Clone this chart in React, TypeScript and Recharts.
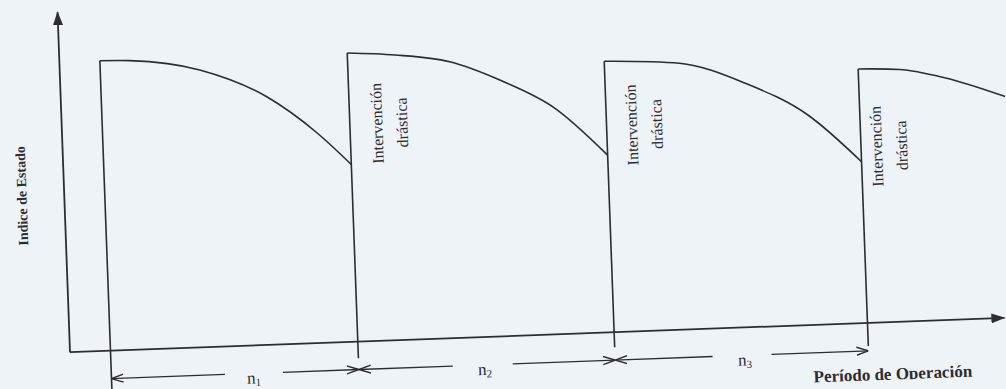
import { LineChart, Line, XAxis, YAxis, ReferenceLine, ReferenceDot } from 'recharts';

// operating time (x) and condition index (y)
const X_MAX = 37.76;
const Y_MIN = -17;
const Y_MAX = 100;

const cycle1T = [1.62, 2.82, 5.6, 8.24, 10.19, 11.52];
const cycle1V = [85.3, 85.0, 81.5, 72.9, 61.8, 52.1];
const cycle2T = [11.52, 13.42, 15.6, 17.58, 19.73, 21.78];
const cycle2V = [84.9, 83.8, 81.2, 75.3, 66.5, 52.1];
const cycle3T = [21.78, 24.79, 27.36, 29.83, 31.92];
const cycle3V = [79.7, 78.3, 71.8, 61.8, 47.4];
const cycle4T = [31.92, 33.57, 35.36, 37.76];
const cycle4V = [74.7, 74.1, 71.2, 65];

// vertical strokes at each restart
const interventionT = [1.62, 11.52, 21.78, 31.92];
const interventionTop = [85.3, 84.9, 79.7, 74.7];
const interventionFoot = [-13, -4.9, -4.4, -6.8];

// "Intervención drástica" notes
const noteT = [12.6, 22.78, 32.54];
const noteV = [63.9, 60.7, 51.8];
const noteLines = ['Intervención', 'drástica'];

// n1 / n2 / n3 dimension arrows under the axis
const dimStart = [1.62, 11.52, 21.78];
const dimEnd = [11.52, 21.78, 31.92];
const gapStart = [6.16, 15.28, 25.68];
const gapEnd = [8.48, 17.68, 28.04];
const dimLabelT = [7.32, 16.56, 26.97];
const dimSub = ['1', '2', '3'];
const DIM_LEVEL = -8.2;

const yTitle = 'Indice de Estado';
const xTitle = 'Período de Operación';

const INK = '#2b2d31';
const SERIF = '"Liberation Serif", "Times New Roman", serif';

const toPoints = (ts: number[], vs: number[]) => ts.map((t, i) => ({ t, v: vs[i] }));
const cycles = [
  toPoints(cycle1T, cycle1V),
  toPoints(cycle2T, cycle2V),
  toPoints(cycle3T, cycle3V),
  toPoints(cycle4T, cycle4V),
];

const seg = (start?: string, end?: string, width = 1.6) => (p: any) => (
  <line
    x1={p.x1}
    y1={p.y1}
    x2={p.x2}
    y2={p.y2}
    stroke={INK}
    strokeWidth={width}
    markerStart={start ? `url(#${start})` : undefined}
    markerEnd={end ? `url(#${end})` : undefined}
  />
);

const vText = (lines: string[], size: number, weight: string, gap: number) => (p: any) => (
  <g>
    {lines.map((s, i) => {
      const x = p.cx + i * gap;
      return (
        <text
          key={s}
          x={x}
          y={p.cy}
          transform={`rotate(-90 ${x} ${p.cy})`}
          textAnchor="middle"
          dominantBaseline="central"
          fontFamily={SERIF}
          fontSize={size}
          fontWeight={weight}
          fill={INK}
        >
          {s}
        </text>
      );
    })}
  </g>
);

export default function App() {
  return (
    <div style={{ position: 'fixed', left: 0, top: 0, width: 1006, height: 389, background: '#eef3f8', overflow: 'hidden' }}>
      {/* the scanned sheet sits about two degrees off square */}
      <div style={{ position: 'absolute', left: 4, top: 0, transform: 'rotate(-2.1deg)', transformOrigin: '66px 352px' }}>
        <LineChart width={1010} height={410} margin={{ top: 12, right: 0, bottom: 0, left: 66 }}>
          <defs>
            <marker id="axisArrow" viewBox="0 0 14 10" refX="13" refY="5" markerWidth="14" markerHeight="10" markerUnits="userSpaceOnUse" orient="auto">
              <path d="M0,0 L14,5 L0,10 z" fill={INK} />
            </marker>
            <marker id="dimArrow" viewBox="0 0 12 10" refX="12" refY="5" markerWidth="12" markerHeight="10" markerUnits="userSpaceOnUse" orient="auto-start-reverse">
              <path d="M0,1 L12,5 L0,9" fill="none" stroke={INK} strokeWidth="1.4" />
            </marker>
          </defs>
          <XAxis type="number" dataKey="t" domain={[0, X_MAX]} hide allowDataOverflow />
          <YAxis type="number" domain={[Y_MIN, Y_MAX]} hide allowDataOverflow />

          <ReferenceLine segment={[{ x: 0, y: 0 }, { x: 0, y: Y_MAX }]} shape={seg(undefined, 'axisArrow', 1.8)} />
          <ReferenceLine segment={[{ x: 0, y: 0 }, { x: 37.4, y: 0 }]} shape={seg(undefined, 'axisArrow', 1.8)} />

          {interventionT.map((t, i) => (
            <ReferenceLine
              key={`iv${i}`}
              segment={[{ x: t, y: interventionFoot[i] }, { x: t, y: interventionTop[i] }]}
              shape={seg()}
            />
          ))}

          {cycles.map((c, i) => (
            <Line
              key={`c${i}`}
              data={c}
              dataKey="v"
              type="monotone"
              stroke={INK}
              strokeWidth={1.6}
              dot={false}
              activeDot={false}
              isAnimationActive={false}
            />
          ))}

          {dimStart.map((t, i) => (
            <ReferenceLine
              key={`da${i}`}
              segment={[{ x: gapStart[i], y: DIM_LEVEL }, { x: t, y: DIM_LEVEL }]}
              shape={seg(undefined, 'dimArrow', 1.3)}
            />
          ))}
          {dimEnd.map((t, i) => (
            <ReferenceLine
              key={`db${i}`}
              segment={[{ x: gapEnd[i], y: DIM_LEVEL }, { x: t, y: DIM_LEVEL }]}
              shape={seg(undefined, 'dimArrow', 1.3)}
            />
          ))}
          {dimLabelT.map((t, i) => (
            <ReferenceDot
              key={`dl${i}`}
              x={t}
              y={-9.6}
              r={0}
              shape={(p: any) => (
                <text x={p.cx} y={p.cy} textAnchor="middle" dominantBaseline="central" fontFamily={SERIF} fontSize={17} fill={INK}>
                  n<tspan fontSize={11} dy={4}>{dimSub[i]}</tspan>
                </text>
              )}
            />
          ))}

          {noteT.map((t, i) => (
            <ReferenceDot key={`nt${i}`} x={t} y={noteV[i]} r={0} shape={vText(noteLines, 16, 'normal', 25)} />
          ))}

          <ReferenceDot x={-1.69} y={46.4} r={0} ifOverflow="visible" shape={vText([yTitle], 14, 'bold', 0)} />
          <ReferenceDot
            x={32.86}
            y={-15.3}
            r={0}
            shape={(p: any) => (
              <text x={p.cx} y={p.cy} textAnchor="middle" dominantBaseline="central" fontFamily={SERIF} fontSize={17} fontWeight="bold" fill={INK}>
                {xTitle}
              </text>
            )}
          />
        </LineChart>
      </div>
    </div>
  );
}
